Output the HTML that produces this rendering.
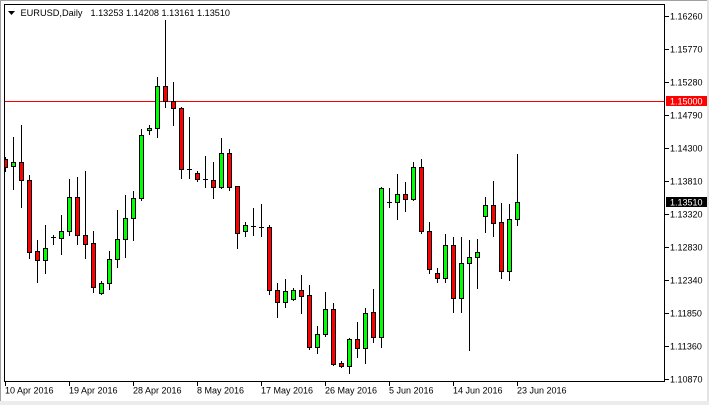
<!DOCTYPE html>
<html>
<head>
<meta charset="utf-8">
<style>
html,body{margin:0;padding:0;background:#fff;}
svg{display:block;}
text{font-family:"Liberation Sans",Arial,sans-serif;font-size:9px;fill:#000;}
.g{fill:#00ff00;stroke:#000;stroke-width:1;}
.r{fill:#ff0000;stroke:#000;stroke-width:1;}
</style>
</head>
<body>
<svg width="709" height="405" viewBox="0 0 709 405" xmlns="http://www.w3.org/2000/svg">
<defs>
<clipPath id="pc"><rect x="5" y="5" width="659" height="376"/></clipPath>
</defs>
<rect x="0" y="0" width="709" height="405" fill="#fff"/>
<!-- window edges -->
<rect x="0" y="0" width="709" height="1" fill="#a0a0a0"/>
<rect x="0" y="0" width="1" height="405" fill="#a0a0a0"/>
<rect x="707" y="0" width="2" height="405" fill="#e4e4e4"/>
<rect x="0" y="401" width="709" height="4" fill="#ececec"/>

<!-- header -->
<polygon points="8,11 15,11 11.5,15" fill="#000"/>
<text x="20.5" y="16" textLength="62" lengthAdjust="spacingAndGlyphs">EURUSD,Daily</text>
<text x="90.5" y="16" textLength="139.5" lengthAdjust="spacingAndGlyphs">1.13253 1.14208 1.13161 1.13510</text>

<!-- plot frame -->
<rect x="4.5" y="4.5" width="660" height="377" fill="none" stroke="#000" stroke-width="1"/>

<g clip-path="url(#pc)">
<!-- 1.15000 line -->
<path d="M5 101.5H664" stroke="#ff0000" stroke-width="1"/>
<!-- wicks -->
<path stroke="#000" stroke-width="1" fill="none" d="M5.5 157V172M13.5 137V190M21.5 125V208M29.5 175V259M37.5 240V283M45.5 225V274M53.5 235V245M61.5 215V255M69.5 179V236M77.5 177V245M85.5 171V259M93.5 231V293M101.5 281V295M109.5 251V290M117.5 210V268M125.5 195V258M133.5 191V241M141.5 129V201M149.5 125V135M157.5 77V138M165.5 20V108M173.5 82V126M181.5 107V179M189.5 117V179M197.5 171V182M205.5 156V188M213.5 162V199M221.5 138V189M229.5 149V191M237.5 186V249M245.5 222V237M253.5 208V236M261.5 204V237M269.5 225V295M277.5 283V318M285.5 279V308M293.5 288V301M301.5 275V314M309.5 285V350M317.5 326V354M325.5 292V337M333.5 303V366M341.5 361V368M349.5 338V374M357.5 322V358M365.5 308V364M373.5 289V343M381.5 187V348M389.5 188V208M397.5 174V220M405.5 182V212M413.5 162V201M421.5 159V234M429.5 222V274M437.5 268V283M445.5 234V283M453.5 237V313M461.5 237V313M469.5 240V351M477.5 239V289M485.5 197V233M493.5 181V237M501.5 203V279M509.5 204V281M517.5 154V226"/>
<!-- dojis -->
<path stroke="#000" stroke-width="1" fill="none" d="M51 237.5h5M187 169.5h5M203 179.5h5M251 226.5h5M259 227.5h5M387 202.5h5"/>
<!-- bodies -->
<rect class="r" x="3.5" y="159.5" width="4" height="8"/>
<rect class="g" x="11.5" y="162.5" width="4" height="4"/>
<rect class="r" x="19.5" y="162.5" width="4" height="18"/>
<rect class="r" x="27.5" y="180.5" width="4" height="72"/>
<rect class="r" x="35.5" y="251.5" width="4" height="9"/>
<rect class="g" x="43.5" y="248.5" width="4" height="12"/>
<rect class="g" x="59.5" y="231.5" width="4" height="7"/>
<rect class="g" x="67.5" y="197.5" width="4" height="34"/>
<rect class="r" x="75.5" y="197.5" width="4" height="38"/>
<rect class="r" x="83.5" y="235.5" width="4" height="9"/>
<rect class="r" x="91.5" y="243.5" width="4" height="44"/>
<rect class="g" x="99.5" y="283.5" width="4" height="10"/>
<rect class="g" x="107.5" y="259.5" width="4" height="24"/>
<rect class="g" x="115.5" y="239.5" width="4" height="20"/>
<rect class="g" x="123.5" y="218.5" width="4" height="21"/>
<rect class="g" x="131.5" y="198.5" width="4" height="20"/>
<rect class="g" x="139.5" y="135.5" width="4" height="63"/>
<rect class="g" x="147.5" y="128.5" width="4" height="2"/>
<rect class="g" x="155.5" y="86.5" width="4" height="42"/>
<rect class="r" x="163.5" y="86.5" width="4" height="15"/>
<rect class="r" x="171.5" y="101.5" width="4" height="7"/>
<rect class="r" x="179.5" y="108.5" width="4" height="61"/>
<rect class="r" x="195.5" y="173.5" width="4" height="6"/>
<rect class="r" x="211.5" y="180.5" width="4" height="7"/>
<rect class="g" x="219.5" y="153.5" width="4" height="34"/>
<rect class="r" x="227.5" y="153.5" width="4" height="34"/>
<rect class="r" x="235.5" y="186.5" width="4" height="47"/>
<rect class="g" x="243.5" y="225.5" width="4" height="6"/>
<rect class="r" x="267.5" y="227.5" width="4" height="63"/>
<rect class="r" x="275.5" y="290.5" width="4" height="12"/>
<rect class="g" x="283.5" y="291.5" width="4" height="11"/>
<rect class="g" x="291.5" y="290.5" width="4" height="9"/>
<rect class="r" x="299.5" y="290.5" width="4" height="6"/>
<rect class="r" x="307.5" y="295.5" width="4" height="52"/>
<rect class="g" x="315.5" y="334.5" width="4" height="13"/>
<rect class="g" x="323.5" y="309.5" width="4" height="25"/>
<rect class="r" x="331.5" y="309.5" width="4" height="55"/>
<rect class="r" x="339.5" y="363.5" width="4" height="3"/>
<rect class="g" x="347.5" y="339.5" width="4" height="27"/>
<rect class="r" x="355.5" y="339.5" width="4" height="9"/>
<rect class="g" x="363.5" y="313.5" width="4" height="35"/>
<rect class="r" x="371.5" y="312.5" width="4" height="25"/>
<rect class="g" x="379.5" y="188.5" width="4" height="149"/>
<rect class="g" x="395.5" y="194.5" width="4" height="8"/>
<rect class="r" x="403.5" y="194.5" width="4" height="5"/>
<rect class="g" x="411.5" y="167.5" width="4" height="32"/>
<rect class="r" x="419.5" y="167.5" width="4" height="64"/>
<rect class="r" x="427.5" y="231.5" width="4" height="38"/>
<rect class="r" x="435.5" y="273.5" width="4" height="5"/>
<rect class="g" x="443.5" y="245.5" width="4" height="33"/>
<rect class="r" x="451.5" y="245.5" width="4" height="53"/>
<rect class="g" x="459.5" y="263.5" width="4" height="35"/>
<rect class="g" x="467.5" y="257.5" width="4" height="6"/>
<rect class="g" x="475.5" y="252.5" width="4" height="5"/>
<rect class="g" x="483.5" y="205.5" width="4" height="11"/>
<rect class="r" x="491.5" y="205.5" width="4" height="18"/>
<rect class="r" x="499.5" y="222.5" width="4" height="49"/>
<rect class="g" x="507.5" y="219.5" width="4" height="52"/>
<rect class="g" x="515.5" y="202.5" width="4" height="17"/>
</g>

<!-- price axis ticks -->
<path stroke="#000" stroke-width="1" d="M665 16.5h4M665 49.5h4M665 82.5h4M665 115.5h4M665 148.5h4M665 181.5h4M665 214.5h4M665 247.5h4M665 280.5h4M665 313.5h4M665 346.5h4M665 379.5h4"/>
<text x="670" y="19.3">1.16260</text>
<text x="670" y="52.3">1.15770</text>
<text x="670" y="85.3">1.15280</text>
<text x="670" y="118.3">1.14790</text>
<text x="670" y="151.3">1.14300</text>
<text x="670" y="184.3">1.13810</text>
<text x="670" y="217.3">1.13320</text>
<text x="670" y="250.3">1.12830</text>
<text x="670" y="283.3">1.12340</text>
<text x="670" y="316.3">1.11850</text>
<text x="670" y="349.3">1.11360</text>
<text x="670" y="382.3">1.10870</text>

<!-- current level boxes -->
<rect x="666" y="96" width="41" height="10" fill="#ff0000"/>
<text x="670" y="104.3" style="fill:#fff">1.15000</text>
<rect x="666" y="197" width="41" height="10" fill="#000"/>
<text x="670" y="205.3" style="fill:#fff">1.13510</text>

<!-- time axis -->
<path stroke="#000" stroke-width="1" d="M5.5 382v4M69.5 382v4M133.5 382v4M197.5 382v4M261.5 382v4M325.5 382v4M389.5 382v4M453.5 382v4M517.5 382v4"/>
<text x="5" y="393.5">10 Apr 2016</text>
<text x="69" y="393.5">19 Apr 2016</text>
<text x="133" y="393.5">28 Apr 2016</text>
<text x="197" y="393.5">8 May 2016</text>
<text x="261" y="393.5">17 May 2016</text>
<text x="325" y="393.5">26 May 2016</text>
<text x="389" y="393.5">5 Jun 2016</text>
<text x="453" y="393.5">14 Jun 2016</text>
<text x="517" y="393.5">23 Jun 2016</text>
</svg>
</body>
</html>
